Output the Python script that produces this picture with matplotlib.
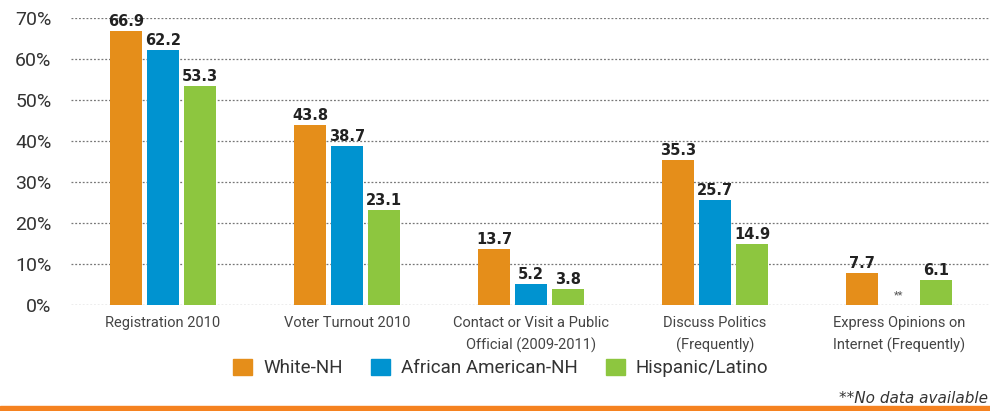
import matplotlib
matplotlib.use("Agg")
import matplotlib.pyplot as plt
import numpy as np
from matplotlib.patches import Rectangle

categories = ["Registration 2010", "Voter Turnout 2010",
              "Contact or Visit a Public\nOfficial (2009-2011)",
              "Discuss Politics\n(Frequently)",
              "Express Opinions on\nInternet (Frequently)"]
series_names = ["White-NH", "African American-NH", "Hispanic/Latino"]
white = [66.9, 43.8, 13.7, 35.3, 7.7]
black = [62.2, 38.7, 5.2, 25.7, None]
hispanic = [53.3, 23.1, 3.8, 14.9, 6.1]
colors = ["#E58E1A", "#0093D0", "#8DC63F"]
yticks = [0, 10, 20, 30, 40, 50, 60, 70]

plt.rcParams['font.family'] = ['Roboto', 'DejaVu Sans']

fig = plt.figure(figsize=(9.9, 4.11), dpi=100)
ax = fig.add_axes([71/990, 106/411, 920/990, 287/411])

x = np.arange(len(categories))
w = 0.174
off = 0.201
for i, (vals, c, name) in enumerate(zip([white, black, hispanic], colors, series_names)):
    xs = x + (i - 1) * off
    for xi, v in zip(xs, vals):
        if v is None:
            ax.text(xi, 1.2, "**", ha='center', va='bottom', fontsize=8, color='#555555')
            continue
        ax.bar(xi, v, width=w, color=c, zorder=3)
        ax.text(xi, v + 0.5, f"{v:.1f}", ha='center', va='bottom', fontsize=10.5,
                fontweight='bold', color='#222222', family=['DejaVu Sans'],
                zorder=4)

ax.set_xlim(-0.5, 4.5)
ax.set_ylim(0, 70)
ax.set_yticks(yticks)
ax.set_yticklabels([f"{t}%" for t in yticks], fontsize=14, color='#333333')
ax.set_xticks(x)
ax.set_xticklabels(categories, fontsize=10.5, color='#444444', linespacing=1.6)
ax.tick_params(axis='both', length=0)
ax.tick_params(axis='y', pad=14)
ax.tick_params(axis='x', pad=8)
ax.yaxis.grid(True, linestyle=(0, (1.5, 1.5)), color='#777777', linewidth=0.9, zorder=0)
ax.set_axisbelow(True)
for s in ax.spines.values():
    s.set_visible(False)

handles = [Rectangle((0, 0), 1, 1, color=c) for c in colors]
fig.legend(handles, series_names, loc='center', bbox_to_anchor=(501/990, 1 - 368/411),
           ncol=3, frameon=False, fontsize=13.5, handlelength=1.0, handleheight=1.0,
           handletextpad=0.6, columnspacing=1.5, labelcolor='#333333')

fig.text(988/990, 1 - 398/411, "**No data available", fontsize=11, style='italic',
         color='#333333', ha='right', va='center', family=['DejaVu Sans'])
fig.add_artist(Rectangle((0, 0), 1, 5/411, transform=fig.transFigure,
                         color='#F58220', zorder=5))

fig.savefig("out.png", dpi=100)
